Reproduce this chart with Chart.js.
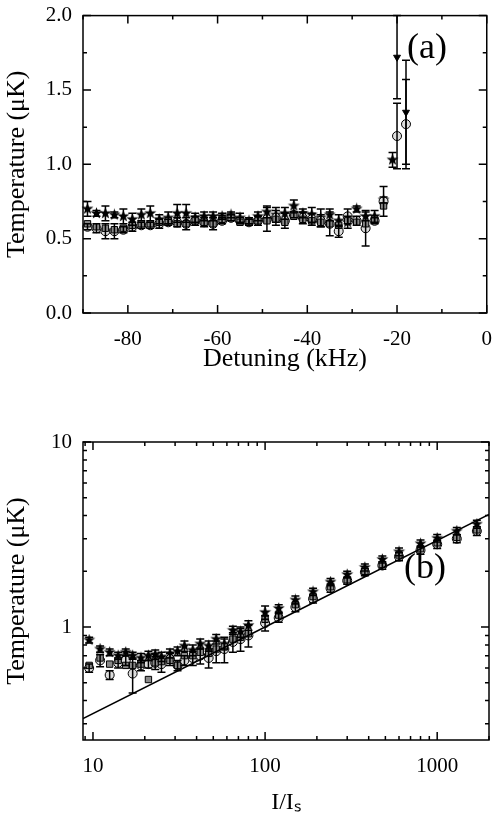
<!DOCTYPE html><html><head><script src="https://cdn.jsdelivr.net/npm/chart.js@4"></script>
<style>body{margin:0;background:#fff}#wa{position:absolute;left:0;top:0;width:498px;height:385px}#wb{position:absolute;left:0;top:400px;width:498px;height:417px}</style></head><body>
<div id="wa"><canvas id="ca"></canvas></div><div id="wb"><canvas id="cb"></canvas></div>
<script>
// Panel (a)
const detX=[-89,-87,-85,-83,-81,-79,-77,-75,-73,-71,-69,-67,-65,-63,-61,-59,-57,-55,-53,-51,-49,-47,-45,-43,-41,-39,-37,-35,-33,-31,-29,-27,-25,-23];
const aStars=[0.70,0.67,0.67,0.66,0.65,0.63,0.66,0.67,0.63,0.64,0.67,0.67,0.64,0.65,0.65,0.65,0.66,0.64,0.62,0.65,0.68,0.66,0.67,0.72,0.67,0.66,0.64,0.66,0.62,0.61,0.70,0.65,0.65,0.76];
const aStarsErr=[0.05,0.02,0.05,0.02,0.05,0.04,0.04,0.05,0.03,0.04,0.06,0.06,0.03,0.03,0.03,0.02,0.02,0.03,0.02,0.03,0.04,0.05,0.04,0.04,0.03,0.05,0.06,0.04,0.04,0.04,0.02,0.03,0.04,0.02];
const aCircles=[0.58,0.57,0.55,0.55,0.56,0.58,0.59,0.59,0.60,0.61,0.61,0.60,0.62,0.61,0.60,0.62,0.64,0.62,0.61,0.62,0.63,0.64,0.62,0.66,0.64,0.63,0.62,0.60,0.55,0.65,0.62,0.57,0.62,0.75];
const aCircErr=[0.02,0.03,0.05,0.05,0.02,0.03,0.02,0.02,0.03,0.02,0.03,0.04,0.03,0.03,0.04,0.02,0.02,0.02,0.02,0.03,0.08,0.05,0.05,0.02,0.04,0.04,0.04,0.08,0.04,0.05,0.03,0.12,0.02,0.10];
const aSquares=[0.60,0.58,0.57,0.56,0.57,0.59,0.60,0.60,0.61,0.62,0.60,0.60,0.62,0.61,0.60,0.63,0.64,0.61,0.61,0.62,0.62,0.63,0.61,0.65,0.63,0.62,0.61,0.60,0.59,0.62,0.61,0.60,0.63,0.72];
const aHighX=[-21,-20,-18];
const aHigh=[1.03,1.72,1.35];
const aHighErr=[0.05,0.28,0.35];
const aHighCircX=[-20,-18];
const aHighCirc=[1.19,1.27];
const aHighCircErr=[0.22,0.30];
const aXTicks=[-80,-60,-40,-20,0];
const aYTicks=[0.0,0.5,1.0,1.5,2.0];
// Panel (b)
const intX=[9.5,11,12.5,14,15.5,17,19,21,23,25,28,31,34,38,42,47,52,58,65,72,80,100,120,150,190,240,300,380,480,600,800,1000,1300,1700];
const bStars=[0.85,0.76,0.73,0.70,0.73,0.70,0.68,0.70,0.71,0.69,0.72,0.74,0.79,0.75,0.81,0.79,0.86,0.81,0.96,0.94,1.02,1.20,1.26,1.40,1.55,1.75,1.92,2.10,2.32,2.55,2.82,3.02,3.30,3.60];
const bStarsErr=[0.03,0.03,0.03,0.03,0.03,0.03,0.04,0.04,0.04,0.04,0.04,0.04,0.05,0.05,0.05,0.05,0.05,0.05,0.05,0.06,0.06,0.10,0.06,0.07,0.07,0.08,0.08,0.09,0.10,0.12,0.13,0.14,0.15,0.18];
const bCircles=[0.60,0.66,0.55,0.64,0.66,0.56,0.62,0.63,0.64,0.63,0.67,0.62,0.66,0.68,0.70,0.68,0.74,0.76,0.83,0.86,0.90,1.05,1.12,1.28,1.42,1.62,1.78,1.98,2.15,2.40,2.60,2.80,3.00,3.30];
const bCircErr=[0.03,0.05,0.03,0.04,0.04,0.12,0.04,0.03,0.05,0.06,0.05,0.04,0.04,0.06,0.07,0.08,0.10,0.12,0.10,0.12,0.12,0.10,0.06,0.07,0.07,0.08,0.08,0.09,0.10,0.12,0.13,0.14,0.15,0.18];
const bSquares=[0.62,0.68,0.63,0.66,0.62,0.62,0.63,0.52,0.64,0.65,0.66,0.62,0.70,0.70,0.73,0.72,0.76,0.78,0.86,0.88,0.92,1.10,1.16,1.32,1.46,1.65,1.80,2.00,2.18,2.45,2.65,2.85,3.05,3.35];
const fitX=[8.75,100,2000];
const fitY=[0.32,1.0,4.06];
const bXTicks=[10,100,1000];
const bYTicks=[1,10];

const F='"Liberation Serif","Times New Roman",serif';
function starImg(){const c=document.createElement('canvas');c.width=c.height=13;const g=c.getContext('2d');g.fillStyle='#000';g.beginPath();
for(let i=0;i<10;i++){const r=i%2?2.6:6.3,a=-Math.PI/2+i*Math.PI/5;g.lineTo(6.5+r*Math.cos(a),6.5+r*Math.sin(a));}g.closePath();g.fill();return c;}
const STAR=starImg();
function pts(xs,ys){return xs.map((x,i)=>({x:x,y:ys[i]}));}
const errPlugin={id:'err',afterDatasetsDraw(ch){const g=ch.ctx;g.save();g.strokeStyle='#000';g.lineWidth=1.5;
ch.data.datasets.forEach((ds,di)=>{if(!ds.err)return;const xs=ch.scales.x,ys=ch.scales.y;
ds.data.forEach((p,i)=>{const e=ds.err[i];if(!e)return;const x=xs.getPixelForValue(p.x);const y1=ys.getPixelForValue(p.y+e),y0=ys.getPixelForValue(Math.max(p.y-e,1e-3));
g.beginPath();g.moveTo(x,y1);g.lineTo(x,y0);g.moveTo(x-4,y1);g.lineTo(x+4,y1);g.moveTo(x-4,y0);g.lineTo(x+4,y0);g.stroke();});});g.restore();}};
function tickPlugin(majorX,majorY,minorX,minorY){return{id:'tk',afterDraw(ch){const g=ch.ctx,a=ch.chartArea,xs=ch.scales.x,ys=ch.scales.y;g.save();g.strokeStyle='#000';g.lineWidth=1.5;
g.strokeRect(a.left,a.top,a.right-a.left,a.bottom-a.top);g.beginPath();
const dx=(v,l)=>{const p=xs.getPixelForValue(v);if(p<a.left-0.5||p>a.right+0.5)return;g.moveTo(p,a.bottom);g.lineTo(p,a.bottom-l);g.moveTo(p,a.top);g.lineTo(p,a.top+l);};
const dy=(v,l)=>{const p=ys.getPixelForValue(v);if(p<a.top-0.5||p>a.bottom+0.5)return;g.moveTo(a.left,p);g.lineTo(a.left+l,p);g.moveTo(a.right,p);g.lineTo(a.right-l,p);};
majorX.forEach(v=>dx(v,8));majorY.forEach(v=>dy(v,8));minorX.forEach(v=>dx(v,4));minorY.forEach(v=>dy(v,4));g.stroke();g.restore();}};}
function label(t,x,y){return{id:'lb',afterDraw(ch){const g=ch.ctx;g.save();g.font='36px '+F;g.fillStyle='#000';g.fillText(t,x,y);g.restore();}};}

new Chart(document.getElementById('ca'),{type:'scatter',
data:{datasets:[
{data:pts(detX,aSquares),pointStyle:'rect',pointRadius:4.5,backgroundColor:'#888',borderColor:'#000',borderWidth:1},
{data:pts(detX,aCircles),err:aCircErr,pointStyle:'circle',pointRadius:4.5,backgroundColor:'#ddd',borderColor:'#000',borderWidth:1},
{data:pts(detX,aStars),err:aStarsErr,pointStyle:STAR,pointRadius:6},
{data:pts(aHighCircX,aHighCirc),err:aHighCircErr,pointStyle:'circle',pointRadius:4.5,backgroundColor:'#ddd',borderColor:'#000',borderWidth:1},
{data:pts(aHighX,aHigh),err:aHighErr,pointStyle:[STAR,'triangle','triangle'],rotation:[0,180,180],pointRadius:[6,4,4],backgroundColor:'#000',borderColor:'#000'}
]},
options:{animation:false,responsive:true,maintainAspectRatio:false,clip:false,layout:{padding:{top:10,right:9}},
plugins:{legend:{display:false},tooltip:{enabled:false}},
scales:{x:{type:'linear',min:-90,max:0,afterFit:s=>{s.height=72},afterBuildTicks:s=>{s.ticks=aXTicks.map(v=>({value:v}))},grid:{display:false},border:{display:false},
ticks:{font:{family:F,size:21},color:'#000',padding:6},title:{display:true,text:'Detuning (kHz)',font:{family:F,size:26},color:'#000',padding:{top:0,bottom:10}}},
y:{min:0,max:2,afterFit:s=>{s.width=83},afterBuildTicks:s=>{s.ticks=aYTicks.map(v=>({value:v}))},grid:{display:false},border:{display:false},
ticks:{font:{family:F,size:21},color:'#000',callback:v=>v.toFixed(1)},title:{display:true,text:'Temperature (μK)',font:{family:F,size:26},color:'#000',padding:2}}}},
plugins:[errPlugin,tickPlugin(aXTicks,aYTicks,[-90,-70,-50,-30,-10],[0.25,0.75,1.25,1.75]),label('(a)',407,58)]});

const mX=[];[1,10,100,1000].forEach(d=>{for(let k=2;k<10;k++)mX.push(d*k);});
const mY=[];[0.1,1].forEach(d=>{for(let k=2;k<10;k++)mY.push(d*k);});
new Chart(document.getElementById('cb'),{type:'scatter',
data:{datasets:[
{type:'line',data:pts(fitX,fitY),borderColor:'#000',borderWidth:1.5,pointRadius:0,fill:false},
{data:pts(intX,bSquares),pointStyle:'rect',pointRadius:4.5,backgroundColor:'#888',borderColor:'#000',borderWidth:1},
{data:pts(intX,bCircles),err:bCircErr,pointStyle:'circle',pointRadius:4.5,backgroundColor:'#ddd',borderColor:'#000',borderWidth:1},
{data:pts(intX,bStars),err:bStarsErr,pointStyle:STAR,pointRadius:6}
]},
options:{animation:false,responsive:true,maintainAspectRatio:false,layout:{padding:{top:42,right:9}},
plugins:{legend:{display:false},tooltip:{enabled:false}},
scales:{x:{type:'logarithmic',min:8.75,max:2000,afterFit:s=>{s.height=77},afterBuildTicks:s=>{s.ticks=bXTicks.map(v=>({value:v}))},grid:{display:false},border:{display:false},
ticks:{font:{family:F,size:21},color:'#000',padding:6,callback:v=>String(v)},title:{display:true,text:'I/Iₛ',font:{family:F,size:24},color:'#000',padding:0}},
y:{type:'logarithmic',min:0.245,max:10,afterFit:s=>{s.width=83},afterBuildTicks:s=>{s.ticks=bYTicks.map(v=>({value:v}))},grid:{display:false},border:{display:false},
ticks:{font:{family:F,size:21},color:'#000',callback:v=>String(v)},title:{display:true,text:'Temperature (μK)',font:{family:F,size:26},color:'#000',padding:2}}}},
plugins:[errPlugin,tickPlugin(bXTicks,bYTicks,mX,mY),label('(b)',404,178)]});
</script></body></html>
